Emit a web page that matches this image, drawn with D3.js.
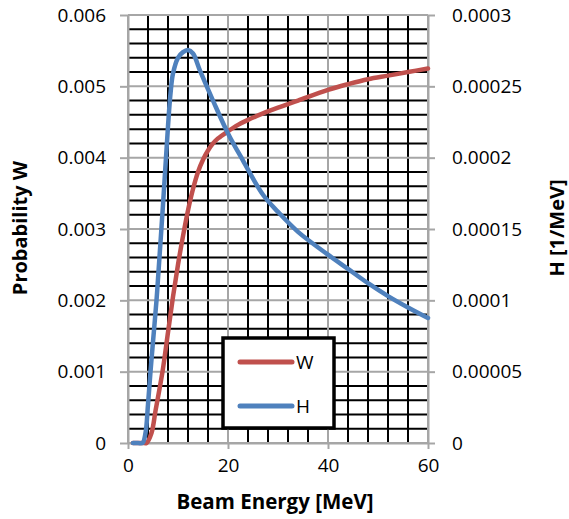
<!DOCTYPE html>
<html>
<head>
<meta charset="utf-8">
<script src="https://cdn.jsdelivr.net/npm/d3@7"></script>
<style>
  html, body { margin: 0; padding: 0; background: #fff; }
  svg { display: block; }
  text { font-family: "Open Sans", "DejaVu Sans", sans-serif; fill: #000; }
</style>
</head>
<body>
<svg id="chart" width="569" height="519"></svg>
<script>
// Beam energy samples (MeV) and probability W (left axis)
const energyW = [1, 2, 3, 3.7, 4.7, 5.5, 6.9, 8, 9, 10, 11, 12, 13, 14, 15, 16, 17, 18, 20, 22, 24, 27, 30, 34, 40, 44, 48, 52, 56, 60];
const valuesW = [0, 0, 0, 0, 0.00014, 0.00045, 0.001, 0.00155, 0.00205, 0.0025, 0.0029, 0.00326, 0.00356, 0.0038, 0.00397, 0.0041, 0.0042, 0.00427, 0.00437, 0.00446, 0.00453, 0.00462, 0.0047, 0.0048, 0.00495, 0.00503, 0.0051, 0.00515, 0.0052, 0.00525];

// Beam energy samples (MeV) and H in 1/MeV (right axis)
const energyH = [1, 2, 2.9, 3.5, 4, 4.5, 5, 5.7, 6, 7, 8, 8.5, 9, 10, 11, 12, 13, 14.4, 17, 20, 23, 27, 30, 34, 40, 44, 48, 52, 56, 60];
const valuesH = [0, 0, 0, 0.000007, 0.000027, 0.00005, 0.000071, 0.0001, 0.000115, 0.000167, 0.000222, 0.000245, 0.000259, 0.00027, 0.000274, 0.0002755, 0.000273, 0.000261, 0.00024, 0.000217, 0.000198, 0.000174, 0.000162, 0.000148, 0.000132, 0.000122, 0.000112, 0.000103, 0.000095, 0.0000876];

// Tick values and labels
const xTicks = [0, 20, 40, 60];
const xTickLabels = ["0", "20", "40", "60"];
const leftTicks = [0, 0.001, 0.002, 0.003, 0.004, 0.005, 0.006];
const leftTickLabels = ["0", "0.001", "0.002", "0.003", "0.004", "0.005", "0.006"];
const rightTicks = [0, 0.00005, 0.0001, 0.00015, 0.0002, 0.00025, 0.0003];
const rightTickLabels = ["0", "0.00005", "0.0001", "0.00015", "0.0002", "0.00025", "0.0003"];
// Minor steps: every 4 MeV and every 0.0002 of W, skipping the major lines
const minorX = d3.range(0, 16).map(i => i * 4).filter((v, i) => i % 5 !== 0);
const minorY = d3.range(0, 31).map(i => i * 0.0002).filter((v, i) => i % 5 !== 0);

const seriesNames = ["W", "H"];
const colors = { W: "#C0504D", H: "#4F81BD" };

const svg = d3.select("#chart");
const plotLeft = 128, plotRight = 428, plotTop = 15, plotBottom = 443;

const x = d3.scaleLinear().domain([0, 60]).range([plotLeft, plotRight]);
const yL = d3.scaleLinear().domain([0, 0.006]).range([plotBottom, plotTop]);
const yR = d3.scaleLinear().domain([0, 0.0003]).range([plotBottom, plotTop]);

// Minor gridlines (black)
const grid = svg.append("g");
grid.selectAll("line.mx").data(minorX).join("line")
  .attr("x1", d => x(d)).attr("x2", d => x(d))
  .attr("y1", plotTop).attr("y2", plotBottom)
  .attr("stroke", "#000").attr("stroke-width", 2);
grid.selectAll("line.my").data(minorY).join("line")
  .attr("x1", plotLeft).attr("x2", plotRight)
  .attr("y1", d => yL(d)).attr("y2", d => yL(d))
  .attr("stroke", "#000").attr("stroke-width", 2);

// Major gridlines (grey)
grid.selectAll("line.Mx").data(xTicks).join("line")
  .attr("x1", d => x(d)).attr("x2", d => x(d))
  .attr("y1", plotTop).attr("y2", plotBottom)
  .attr("stroke", "#A6A6A6").attr("stroke-width", 2);
grid.selectAll("line.My").data(leftTicks).join("line")
  .attr("x1", plotLeft).attr("x2", plotRight)
  .attr("y1", d => yL(d)).attr("y2", d => yL(d))
  .attr("stroke", "#A6A6A6").attr("stroke-width", 2);

function styleAxis(g) {
  g.select(".domain").attr("stroke", "#A6A6A6").attr("stroke-width", 2);
  g.selectAll(".tick line").attr("stroke", "#A6A6A6").attr("stroke-width", 2);
  g.selectAll(".tick text").attr("font-size", 19).attr("fill", "#000")
    .style("font-family", '"Open Sans", "DejaVu Sans", sans-serif');
}

svg.append("g").attr("transform", `translate(0,${plotBottom})`)
  .call(d3.axisBottom(x).tickValues(xTicks).tickFormat((d, i) => xTickLabels[i]).tickSize(6).tickPadding(10).tickSizeOuter(0))
  .call(styleAxis);

svg.append("g").attr("transform", `translate(${plotLeft},0)`)
  .call(d3.axisLeft(yL).tickValues(leftTicks).tickFormat((d, i) => leftTickLabels[i]).tickSize(8).tickPadding(14).tickSizeOuter(0))
  .call(styleAxis);

svg.append("g").attr("transform", `translate(${plotRight},0)`)
  .call(d3.axisRight(yR).tickValues(rightTicks).tickFormat((d, i) => rightTickLabels[i]).tickSize(7).tickPadding(17).tickSizeOuter(0))
  .call(styleAxis);

// Curves
const lineW = d3.line().x(d => x(d[0])).y(d => yL(d[1])).curve(d3.curveCatmullRom.alpha(0.5));
const lineH = d3.line().x(d => x(d[0])).y(d => yR(d[1])).curve(d3.curveCatmullRom.alpha(0.5));

svg.append("path").datum(d3.zip(energyW, valuesW))
  .attr("d", lineW).attr("fill", "none").attr("stroke", colors.W)
  .attr("stroke-width", 4.5).attr("stroke-linejoin", "round").attr("stroke-linecap", "round");
svg.append("path").datum(d3.zip(energyH, valuesH))
  .attr("d", lineH).attr("fill", "none").attr("stroke", colors.H)
  .attr("stroke-width", 4.5).attr("stroke-linejoin", "round").attr("stroke-linecap", "round");

// Legend
const legend = svg.append("g");
legend.append("rect").attr("x", 223).attr("y", 338).attr("width", 111).attr("height", 90)
  .attr("fill", "#fff").attr("stroke", "#000").attr("stroke-width", 3.5);
seriesNames.forEach((name, i) => {
  const ly = 362 + i * 44;
  legend.append("line").attr("x1", 240).attr("x2", 292).attr("y1", ly).attr("y2", ly)
    .attr("stroke", colors[name]).attr("stroke-width", 5).attr("stroke-linecap", "round");
  legend.append("text").attr("x", 296).attr("y", ly).attr("dy", "0.36em")
    .attr("font-size", 19).text(name);
});

// Axis titles
svg.append("text").attr("x", 275).attr("y", 509).attr("text-anchor", "middle")
  .attr("font-size", 20.5).attr("font-weight", "bold").text("Beam Energy [MeV]");
svg.append("text").attr("transform", "translate(27,228) rotate(-90)").attr("text-anchor", "middle")
  .attr("font-size", 20).attr("font-weight", "bold").text("Probability W");
svg.append("text").attr("transform", "translate(564,228) rotate(-90)").attr("text-anchor", "middle")
  .attr("font-size", 20).attr("font-weight", "bold").text("H [1/MeV]");
</script>
</body>
</html>
